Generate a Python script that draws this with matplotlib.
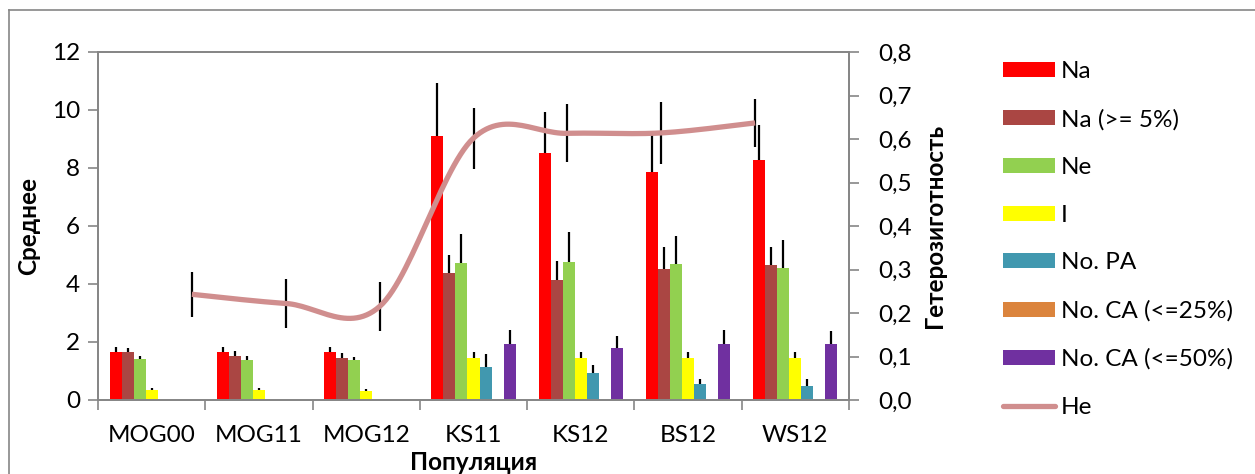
import numpy as np
import matplotlib
matplotlib.use("Agg")
import matplotlib.pyplot as plt
from matplotlib.patches import Patch
from matplotlib.lines import Line2D

plt.rcParams['font.family'] = ['Lato', 'Open Sans', 'DejaVu Sans']

# populations
CATEGORIES = ["MOG00", "MOG11", "MOG12", "KS11", "KS12", "BS12", "WS12"]

# bar series (left axis) and their upper error bars
NA = [1.66, 1.66, 1.66, 9.11, 8.52, 7.86, 8.27]
NA_ERR = [0.16, 0.16, 0.18, 1.81, 1.42, 1.38, 1.20]
NA5 = [1.66, 1.53, 1.45, 4.39, 4.13, 4.52, 4.66]
NA5_ERR = [0.15, 0.15, 0.16, 0.61, 0.67, 0.74, 0.60]
NE = [1.40, 1.39, 1.37, 4.72, 4.77, 4.69, 4.54]
NE_ERR = [0.11, 0.13, 0.13, 1.02, 1.02, 0.95, 0.97]
I_VAL = [0.34, 0.33, 0.30, 1.45, 1.46, 1.44, 1.46]
I_ERR = [0.09, 0.08, 0.08, 0.22, 0.20, 0.20, 0.18]
PA = [0, 0, 0, 1.14, 0.93, 0.54, 0.47]
PA_ERR = [0, 0, 0, 0.44, 0.26, 0.18, 0.24]
CA25 = [0, 0, 0, 0, 0, 0, 0]
CA25_ERR = [0, 0, 0, 0, 0, 0, 0]
CA50 = [0, 0, 0, 1.92, 1.79, 1.92, 1.92]
CA50_ERR = [0, 0, 0, 0.49, 0.41, 0.49, 0.46]

# heterozygosity (right axis)
HE = [0.243, 0.222, 0.215, 0.602, 0.613, 0.614, 0.637]
HE_ERR = [0.052, 0.056, 0.056, 0.070, 0.067, 0.072, 0.056]

SERIES = [("Na", NA, NA_ERR, "#FF0000"),
          ("Na (>= 5%)", NA5, NA5_ERR, "#AA4643"),
          ("Ne", NE, NE_ERR, "#92D050"),
          ("I", I_VAL, I_ERR, "#FFFF00"),
          ("No. PA", PA, PA_ERR, "#4198AF"),
          ("No. CA (<=25%)", CA25, CA25_ERR, "#DB843D"),
          ("No. CA (<=50%)", CA50, CA50_ERR, "#7030A0")]
HE_COLOR = "#D08E8E"
GRID_GRAY = "#868686"
FS = 17.5


def smooth(xp, yp, n=30):
    ''' Excel-like smoothed line through points (Catmull-Rom bezier),
        computed in pixel-like units '''
    sx, sy = 93.9, 435.0
    px = np.array(xp) * sx
    py = np.array(yp) * sy
    ox, oy = [], []
    for k in range(len(px) - 1):
        p0 = k - 1 if k > 0 else k
        p3 = k + 2 if k + 2 < len(px) else k + 1
        c1 = (px[k] + (px[k + 1] - px[p0]) / 6, py[k] + (py[k + 1] - py[p0]) / 6)
        c2 = (px[k + 1] - (px[p3] - px[k]) / 6, py[k + 1] - (py[p3] - py[k]) / 6)
        t = np.linspace(0, 1, n)
        bx = ((1 - t) ** 3 * px[k] + 3 * (1 - t) ** 2 * t * c1[0]
              + 3 * (1 - t) * t ** 2 * c2[0] + t ** 3 * px[k + 1])
        by = ((1 - t) ** 3 * py[k] + 3 * (1 - t) ** 2 * t * c1[1]
              + 3 * (1 - t) * t ** 2 * c2[1] + t ** 3 * py[k + 1])
        ox.extend(bx)
        oy.extend(by)
    return np.array(ox) / sx, np.array(oy) / sy


fig = plt.figure(figsize=(12.55, 4.74), dpi=100)
ax = fig.add_axes([98 / 1255, 74 / 474, 751 / 1255, 348 / 474])

x = np.arange(len(CATEGORIES))
w = 0.112
for j, (name, vals, errs, col) in enumerate(SERIES):
    pos = x + (j - 3) * w
    ax.bar(pos, vals, width=w, color=col, edgecolor="none", zorder=2)
    ax.errorbar(pos, vals, yerr=[np.zeros(len(errs)), errs], fmt="none",
                ecolor="black", elinewidth=1.6, capsize=0, zorder=3)

ax.set_xlim(-0.5, len(CATEGORIES) - 0.5)
ax.set_ylim(0, 12)
ax.set_yticks(range(0, 13, 2))
ax.set_xticks(x)
ax.set_xticklabels(CATEGORIES)
ax.set_xticks(np.arange(-0.5, len(CATEGORIES), 1), minor=True)
ax.tick_params(axis="x", which="major", length=0, pad=18, labelsize=FS)
ax.tick_params(axis="x", which="minor", length=7, width=1.2, color=GRID_GRAY, direction="out")
ax.tick_params(axis="y", length=7, width=1.2, color=GRID_GRAY, labelsize=FS, pad=6)
for s in ax.spines.values():
    s.set_color(GRID_GRAY)
    s.set_linewidth(1.3)
ax.set_ylabel("Среднее", fontsize=FS, fontweight="bold", labelpad=8)
ax.set_xlabel("Популяция", fontsize=FS, fontweight="bold")
ax.xaxis.set_label_coords(0.5, -0.147)

ax2 = ax.twinx()
ax2.set_ylim(0, 0.8)
he_ticks = np.arange(0, 0.81, 0.1)
ax2.set_yticks(he_ticks)
ax2.set_yticklabels([f"{v:.1f}".replace(".", ",") for v in he_ticks])
ax2.tick_params(axis="y", length=7, width=1.2, color=GRID_GRAY, labelsize=FS, pad=14)
for s in ax2.spines.values():
    s.set_color(GRID_GRAY)
    s.set_linewidth(1.3)
ax2.set_ylabel("Гетерозиготность", fontsize=FS, fontweight="bold", labelpad=8)

ax3 = ax2.twiny()
ax3.set_xlim(-1, len(CATEGORIES))
ax3.set_xticks([])
for s in ax3.spines.values():
    s.set_visible(False)
hx = np.arange(len(HE))
sx_, sy_ = smooth(hx, HE)
ax3.errorbar(hx, HE, yerr=HE_ERR, fmt="none", ecolor="black", elinewidth=1.6, capsize=0, zorder=2)
ax3.plot(sx_, sy_, color=HE_COLOR, lw=3.8, solid_capstyle="butt", zorder=3)

handles = [Patch(facecolor=c, edgecolor="none") for _, _, _, c in SERIES]
handles.append(Line2D([0], [0], color=HE_COLOR, lw=3.8, solid_capstyle="round"))
labels = [s[0] for s in SERIES] + ["He"]
fig.legend(handles, labels, loc="upper left", bbox_to_anchor=(1003 / 1255, 1 - 61 / 474),
           frameon=False, fontsize=FS, borderpad=0, borderaxespad=0,
           handlelength=2.14, handleheight=0.58, handletextpad=0.25, labelspacing=1.1)

# chart area border
fig.add_artist(Line2D([9 / 1255, 9 / 1255], [0, 1 - 10 / 474], transform=fig.transFigure,
                      color=GRID_GRAY, lw=1.2))
fig.add_artist(Line2D([9 / 1255, 1], [1 - 10 / 474, 1 - 10 / 474], transform=fig.transFigure,
                      color=GRID_GRAY, lw=1.2))

fig.savefig("out.png", dpi=100)
